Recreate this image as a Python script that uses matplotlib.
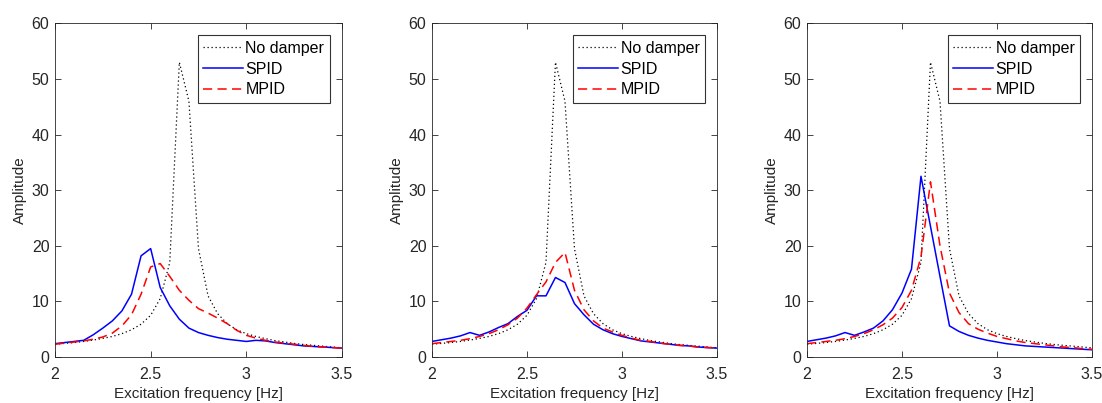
import numpy as np
import matplotlib
matplotlib.use('Agg')
import matplotlib.pyplot as plt

plt.rcParams['font.family'] = ['Liberation Sans', 'DejaVu Sans']

# excitation frequency [Hz], 0.05 Hz steps
freq = [2.0, 2.05, 2.1, 2.15, 2.2, 2.25, 2.3, 2.35, 2.4, 2.45, 2.5, 2.55, 2.6, 2.65, 2.7,
        2.75, 2.8, 2.85, 2.9, 2.95, 3.0, 3.05, 3.1, 3.15, 3.2, 3.25, 3.3, 3.35, 3.4, 3.45, 3.5]

# no damper (same in every panel)
no_damper = [2.3, 2.45, 2.6, 2.8, 3.05, 3.35, 3.7, 4.2, 4.9, 5.9, 7.5, 10.5, 17.0, 53.0, 46.0,
             19.5, 11.0, 7.8, 6.0, 4.9, 4.2, 3.7, 3.3, 2.95, 2.7, 2.45, 2.25, 2.1, 1.95, 1.8, 1.65]

# panel 1
spid_1 = [2.4, 2.6, 2.8, 3.0, 4.0, 5.2, 6.5, 8.3, 11.3, 18.2, 19.5, 12.5, 9.2, 6.8, 5.2,
          4.4, 3.9, 3.5, 3.2, 3.0, 2.8, 3.0, 2.9, 2.6, 2.4, 2.2, 2.0, 1.9, 1.8, 1.7, 1.6]
mpid_1 = [2.3, 2.5, 2.7, 2.9, 3.2, 3.6, 4.3, 5.6, 7.6, 11.3, 16.2, 16.8, 14.5, 12.0, 10.2,
          8.7, 7.9, 7.0, 6.0, 4.8, 3.9, 3.4, 3.0, 2.7, 2.5, 2.3, 2.1, 1.9, 1.8, 1.7, 1.6]

# panel 2
spid_2 = [2.8, 3.1, 3.4, 3.8, 4.4, 3.9, 4.5, 5.3, 6.0, 7.3, 8.4, 11.0, 11.0, 14.3, 13.4,
          9.6, 7.6, 5.9, 4.9, 4.2, 3.7, 3.3, 2.9, 2.7, 2.5, 2.3, 2.1, 2.0, 1.8, 1.7, 1.6]
mpid_2 = [2.4, 2.6, 2.8, 3.0, 3.3, 3.7, 4.2, 4.9, 5.8, 7.0, 8.8, 11.2, 13.5, 17.0, 18.8,
          12.0, 8.5, 6.5, 5.2, 4.5, 3.9, 3.4, 3.0, 2.8, 2.5, 2.3, 2.1, 2.0, 1.8, 1.7, 1.6]

# panel 3
spid_3 = [2.8, 3.1, 3.4, 3.8, 4.4, 3.9, 4.5, 5.2, 6.5, 8.5, 11.5, 15.8, 32.5, 23.5, 14.5,
          5.6, 4.6, 3.9, 3.4, 3.0, 2.7, 2.4, 2.2, 2.0, 1.9, 1.8, 1.7, 1.6, 1.5, 1.4, 1.3]
mpid_3 = [2.4, 2.6, 2.8, 3.0, 3.3, 3.7, 4.2, 4.9, 5.8, 7.0, 8.9, 12.0, 18.0, 31.5, 20.0,
          11.5, 8.0, 6.0, 5.0, 4.3, 3.7, 3.3, 2.9, 2.6, 2.4, 2.2, 2.0, 1.8, 1.7, 1.5, 1.4]

spid_all = [spid_1, spid_2, spid_3]
mpid_all = [mpid_1, mpid_2, mpid_3]

fig = plt.figure(figsize=(11.02, 4.03), dpi=100)
lefts = [0.0499, 0.392, 0.7323]
widths = [0.2604, 0.2586, 0.2586]
axis_col = '#262626'

for i in range(3):
    ax = fig.add_axes([lefts[i], 0.1141, widths[i], 0.828])
    ax.plot(freq, no_damper, color='black', linestyle=(0, (1, 2.2)), linewidth=0.9, label='No damper')
    ax.plot(freq, spid_all[i], color='#0000ff', linestyle='-', linewidth=1.1, label='SPID')
    ax.plot(freq, mpid_all[i], color='#ff0000', linestyle=(0, (6, 3.5)), linewidth=1.1, label='MPID')
    ax.set_xlim(2, 3.5)
    ax.set_ylim(0, 60)
    ax.set_xticks([2, 2.5, 3, 3.5])
    ax.set_xticklabels(['2', '2.5', '3', '3.5'])
    ax.set_yticks(np.arange(0, 61, 10))
    ax.tick_params(direction='in', top=True, right=True, length=4, width=0.6,
                   labelsize=11.5, colors=axis_col, pad=4)
    ax.tick_params(axis='x', pad=7)
    for s in ax.spines.values():
        s.set_color(axis_col)
        s.set_linewidth(0.6)
    ax.set_xlabel('Excitation frequency [Hz]', fontsize=11, color=axis_col, labelpad=4)
    ax.set_ylabel('Amplitude', fontsize=11, color=axis_col, labelpad=3)
    leg = ax.legend(loc='upper right', bbox_to_anchor=(0.958, 0.964), fontsize=11.5,
                    frameon=True, fancybox=False, handlelength=2.5, handletextpad=0.15,
                    borderpad=0.35, labelspacing=0.35, borderaxespad=0)
    leg.get_frame().set_edgecolor('black')
    leg.get_frame().set_linewidth(0.8)

fig.savefig('out.png', dpi=100)
